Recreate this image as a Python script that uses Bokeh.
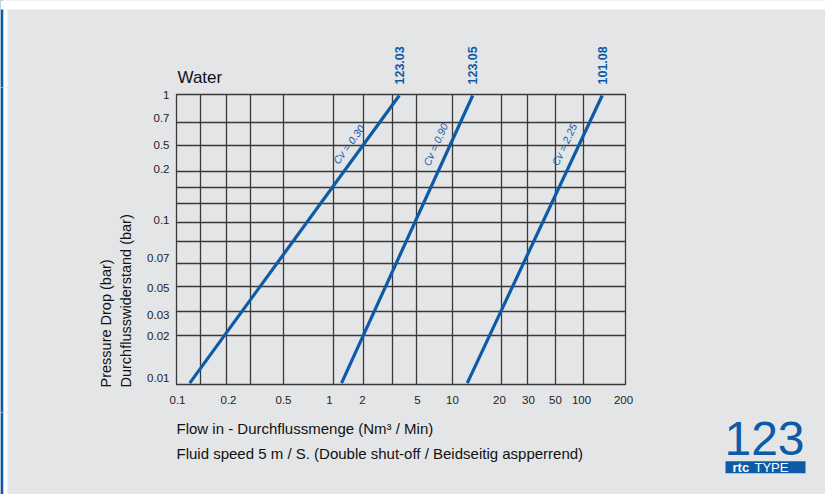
import numpy as np
from bokeh.plotting import figure
from bokeh.layouts import column, row
from bokeh.models import Range1d, FixedTicker, Label, BoxAnnotation
from bokeh.core.properties import value
from bokeh.embed import file_html
from bokeh.resources import INLINE

# ---------------- data ----------------
x_tick_values = [0.1, 0.2, 0.5, 1, 2, 5, 10, 20, 30, 50, 100, 200]
x_tick_labels = ["0.1", "0.2", "0.5", "1", "2", "5", "10", "20", "30", "50", "100", "200"]
y_tick_values = [0.01, 0.02, 0.03, 0.05, 0.07, 0.1, 0.2, 0.5, 0.7, 1]
y_tick_labels = ["0.01", "0.02", "0.03", "0.05", "0.07", "0.1", "0.2", "0.5", "0.7", "1"]
model_names = ["123.03", "123.05", "101.08"]
cv_labels = ["Cv = 0.30", "Cv = 0.90", "Cv = 2.25"]
flow_start = [0.12, 1.2, 12.3]      # Nm3/min at the lower end of each line
flow_end = [3.73, 13.3, 136.5]      # Nm3/min at the upper end of each line
dp_start = [0.0102, 0.0102, 0.0102]  # bar
dp_end = [0.987, 0.987, 0.987]       # bar

# ------------- the chart's own (irregular) scale, frame px units -------------
X_GRID_POS = [0, 50.3, 107.3, 157.3, 186.7, 239.7, 276.3, 324.7, 351.3, 379, 406.7, 449]
X_EXTRA_GRID = [24, 74, 216.3]
X_LABEL_POS = [1, 52, 107, 153, 186, 241, 276, 323, 352, 379, 405, 447]
Y_GRID_POS = [0, 49, 73.5, 98.5, 121, 162, 213, 239, 262, 290]
Y_EXTRA_GRID = [143, 181.3, 197.3]
Y_LABEL_POS = [7, 49, 70, 97, 127, 165, 216, 240, 267, 290]


def sx(v):
    return np.interp(np.log10(v), np.log10(x_tick_values), X_GRID_POS)


def sy(v):
    return np.interp(np.log10(v), np.log10(y_tick_values), Y_GRID_POS)


FONT = "Liberation Sans"
BLUE = "#0d5aa7"
BG = "#e4e5e7"
GRID = "#3a3a3a"
TXT = "#111111"


def no_align(f):
    if "frame_align" in f.properties():
        f.frame_align = False


def aux_fig(w, h, xr, yr):
    f = figure(width=w, height=h, x_range=Range1d(*xr), y_range=Range1d(*yr),
               output_backend="svg", toolbar_location=None,
               x_axis_location=None, y_axis_location=None,
               min_border=0, min_border_left=0, min_border_right=0,
               min_border_top=0, min_border_bottom=0)
    f.background_fill_color = BG
    f.border_fill_color = BG
    f.outline_line_color = None
    f.grid.grid_line_color = None
    no_align(f)
    # page edge decoration: thin blue bar + white gap on the far left
    f.add_layout(BoxAnnotation(left=-176, right=-173, bottom=yr[0] - 2, top=yr[1] + 2,
                               fill_color=BLUE, fill_alpha=1.0, line_color=None,
                               level="underlay"))
    f.add_layout(BoxAnnotation(left=-173, right=-169, bottom=yr[0] - 2, top=yr[1] + 2,
                               fill_color="white", fill_alpha=1.0, line_color=None,
                               level="underlay"))
    return f


# ---------------- main chart ----------------
p = figure(width=689, height=325, x_range=Range1d(0, 449), y_range=Range1d(0, 290),
           output_backend="svg", toolbar_location=None,
           min_border_left=40, min_border_right=200, min_border_top=7, min_border_bottom=28)
p.background_fill_color = BG
p.border_fill_color = BG
p.outline_line_color = GRID
p.outline_line_width = 1.3

p.xgrid.ticker = FixedTicker(ticks=X_GRID_POS + X_EXTRA_GRID)
p.ygrid.ticker = FixedTicker(ticks=Y_GRID_POS + Y_EXTRA_GRID)
for g in (p.xgrid, p.ygrid):
    g.grid_line_color = GRID
    g.grid_line_width = 1.3
    g.grid_line_alpha = 1.0

p.xaxis.ticker = FixedTicker(ticks=X_LABEL_POS)
p.xaxis.major_label_overrides = {pos: lab for pos, lab in zip(X_LABEL_POS, x_tick_labels)}
p.yaxis.ticker = FixedTicker(ticks=Y_LABEL_POS)
p.yaxis.major_label_overrides = {pos: lab for pos, lab in zip(Y_LABEL_POS, y_tick_labels)}
for ax in (p.xaxis, p.yaxis):
    ax.axis_line_color = None
    ax.major_tick_line_color = None
    ax.minor_tick_line_color = None
    ax.major_tick_out = 0
    ax.major_tick_in = 0
    ax.major_label_text_font = FONT
    ax.major_label_text_font_size = "11.5px"
    ax.major_label_text_color = "#222222"
p.xaxis.major_label_standoff = 11
p.yaxis.major_label_standoff = 7

# strips around the chart (same px units as the chart frame)
top = aux_fig(825, 87, (-176, 649), (297, 384))
left = aux_fig(136, 325, (-176, -40), (-28, 297))
bottom = aux_fig(825, 82, (-176, 649), (-110, -28))
top.add_layout(BoxAnnotation(left=-176, right=649, bottom=375, top=386, fill_color="white",
                             fill_alpha=1.0, line_color=None, level="underlay"))

top_x, top_y = [], []
for i in range(len(model_names)):
    xs = [sx(flow_start[i]), sx(flow_end[i])]
    ys = [sy(dp_start[i]), sy(dp_end[i])]
    p.line(xs, ys, line_width=3.2, line_color=BLUE)
    top_x.append(float(xs[1]))
    top_y.append(float(ys[1]) + 11)
    # Cv label along the line
    t = 0.83
    cx = xs[0] + t * (xs[1] - xs[0]) - 15
    cy = ys[0] + t * (ys[1] - ys[0])
    ang = np.arctan2(ys[1] - ys[0], xs[1] - xs[0])
    p.add_layout(Label(x=cx, y=cy, text=cv_labels[i], angle=ang, text_align="center",
                       text_baseline="middle", text_font=FONT, text_font_style="italic",
                       text_font_size="10.5px", text_color=BLUE))

top.text(x=top_x, y=top_y, text=model_names, angle=np.pi / 2, text_align="left",
         text_baseline="middle", text_font=value(FONT), text_font_style="bold",
         text_font_size="12.5px", text_color=BLUE)
top.text(x=[1], y=[307], text=["Water"], text_align="left", text_baseline="middle",
         text_font=value(FONT), text_font_size="17px", text_color=TXT)

left.text(x=[-71, -51], y=[-3, -3], text=["Pressure Drop (bar)", "Durchflusswiderstand (bar)"],
          angle=np.pi / 2, text_align="left", text_baseline="middle",
          text_font=value(FONT), text_font_size="14.5px", text_color=TXT)

bottom.text(x=[0, 0], y=[-44, -69],
            text=["Flow in - Durchflussmenge (Nm\u00b3 / Min)",
                  "Fluid speed 5 m / S. (Double shut-off / Beidseitig aspperrend)"],
            text_align="left", text_baseline="middle", text_font=value(FONT),
            text_font_size="15px", text_color=TXT)

# logo
bottom.add_layout(BoxAnnotation(left=549, right=629, bottom=-88.7, top=-76.7,
                                fill_color=BLUE, fill_alpha=1.0, line_color=None,
                                level="underlay"))
bottom.text(x=[588], y=[-54], text=["123"], text_align="center", text_baseline="middle",
            text_font=value(FONT), text_font_size="48px", text_color=BLUE)
bottom.text(x=[556], y=[-82.7], text=["rtc"], text_align="left", text_baseline="middle",
            text_font=value(FONT), text_font_style="bold", text_font_size="13px",
            text_color="white")
bottom.text(x=[578], y=[-82.7], text=["TYPE"], text_align="left", text_baseline="middle",
            text_font=value(FONT), text_font_size="13px", text_color="white")

layout = column(top, row(left, p, spacing=0, styles={"background-color": BG}), bottom,
                spacing=0, styles={"background-color": BG})
open("out.html", "w").write(file_html(layout, INLINE))
